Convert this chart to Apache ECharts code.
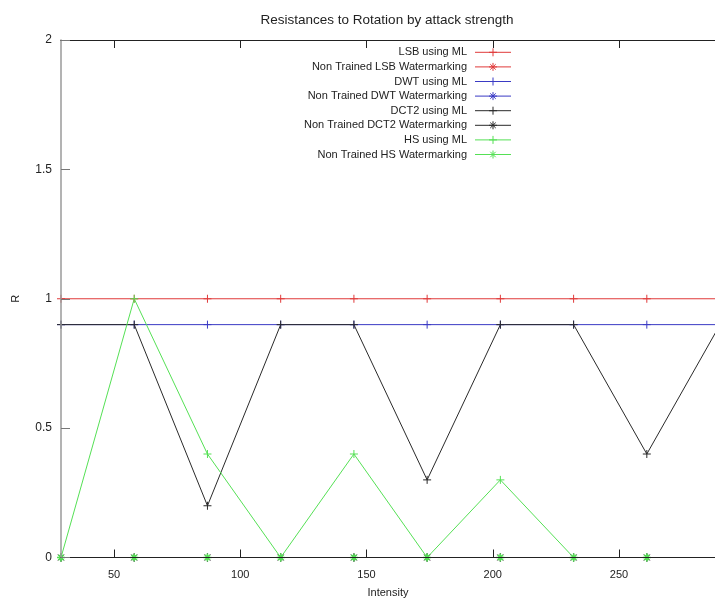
<!DOCTYPE html>
<html>
<head>
<meta charset="utf-8">
<script src="https://cdn.jsdelivr.net/npm/echarts@6/dist/echarts.min.js"></script>
<style>
  html, body { margin: 0; padding: 0; background: #ffffff; }
  #chart { width: 715px; height: 601px; }
</style>
</head>
<body>
<div id="chart"></div>
<script>
// Rotation attack intensities (x) and the resulting R values per method
const intensity = [29, 58, 87, 116, 145, 174, 203, 232, 261, 290];
const lsbML      = [1, 1, 1, 1, 1, 1, 1, 1, 1, 1];
const lsbPlain   = [0, 0, 0, 0, 0, 0, 0, 0, 0, 0];
const dwtML      = [0.9, 0.9, 0.9, 0.9, 0.9, 0.9, 0.9, 0.9, 0.9, 0.9];
const dwtPlain   = [0, 0, 0, 0, 0, 0, 0, 0, 0, 0];
const dct2ML     = [0.9, 0.9, 0.2, 0.9, 0.9, 0.3, 0.9, 0.9, 0.4, 0.9];
const dct2Plain  = [0, 0, 0, 0, 0, 0, 0, 0, 0, 0];
const hsML       = [0, 1, 0.4, 0, 0.4, 0, 0.3, 0, 0, 0];
const hsPlain    = [0, 0, 0, 0, 0, 0, 0, 0, 0, 0];

const xTicks = [50, 100, 150, 200, 250];
const yTicks = [0, 0.5, 1, 1.5, 2];

// "+" and "*" point shapes, stroked rather than filled
const PLUS = 'path://M5,0L5,10M0,5L10,5';
const STAR = 'path://M5,0L5,10M0,5L10,5M1.6,1.6L8.4,8.4M8.4,1.6L1.6,8.4';

const RED = '#e03a3a', BLUE = '#3a3ac4', BLACK = '#2a2a2a', GREEN = '#55e055';

function makeSeries(name, values, color, symbol, strokeWidth) {
  return {
    name: name,
    type: 'line',
    xAxisIndex: 0,
    yAxisIndex: 0,
    data: values.map((v, i) => [intensity[i], v]),
    symbol: symbol,
    symbolSize: 8,
    showAllSymbol: true,
    clip: true,
    lineStyle: { color: color, width: 1 },
    itemStyle: { color: color, borderColor: color, borderWidth: strokeWidth || 1 },
    emphasis: { disabled: true },
    animation: false
  };
}

const chart = echarts.init(document.getElementById('chart'), null, { renderer: 'canvas' });

const fontFamily = '"Liberation Sans", Arial, sans-serif';

chart.setOption({
  animation: false,
  backgroundColor: '#ffffff',
  title: {
    text: 'Resistances to Rotation by attack strength',
    left: 382,
    textAlign: 'center',
    top: 8,
    textStyle: { fontFamily: fontFamily, fontSize: 13.5, fontWeight: 'normal', color: '#222' }
  },
  legend: {
    orient: 'vertical',
    left: 277,
    top: 41,
    align: 'right',
    itemWidth: 36,
    itemHeight: 10,
    itemGap: 2,
    selectedMode: false,
    itemStyle: { borderWidth: 1 },
    lineStyle: { width: 1 },
    textStyle: {
      fontFamily: fontFamily, fontSize: 11, color: '#222',
      width: 185, align: 'right', lineHeight: 12.6, padding: [0, 3, 0, 0]
    }
  },
  grid: { left: 61, right: 0, top: 40, bottom: 43.5, containLabel: false, outerBoundsMode: 'none' },
  xAxis: [
    {
      type: 'value',
      min: 29,
      max: 288,
      position: 'bottom',
      z: 10,
      name: 'Intensity',
      nameLocation: 'middle',
      nameGap: 30,
      nameTextStyle: { fontFamily: fontFamily, fontSize: 11, color: '#222' },
      axisLine: { show: true, onZero: false, lineStyle: { color: '#222', width: 1 } },
      axisTick: { show: true, inside: true, length: 8, customValues: xTicks, lineStyle: { color: '#222' } },
      axisLabel: { customValues: xTicks, margin: 12, fontFamily: fontFamily, fontSize: 11, color: '#222' },
      splitLine: { show: false }
    },
    {
      type: 'value',
      min: 29,
      max: 288,
      position: 'top',
      z: 10,
      axisLine: { show: true, onZero: false, lineStyle: { color: '#222', width: 1 } },
      axisTick: { show: true, inside: true, length: 8, customValues: xTicks, lineStyle: { color: '#222' } },
      axisLabel: { show: false },
      splitLine: { show: false }
    }
  ],
  yAxis: {
    type: 'value',
    min: 0,
    max: 2,
    interval: 0.5,
    z: 10,
    name: 'R',
    nameLocation: 'middle',
    nameGap: 40,
    nameRotate: 90,
    nameTextStyle: { fontFamily: fontFamily, fontSize: 11, color: '#222' },
    axisLine: { show: true, onZero: false, lineStyle: { color: '#9a9a9a', width: 1.5 } },
    axisTick: { show: true, inside: true, length: 9, customValues: yTicks, lineStyle: { color: '#777' } },
    axisLabel: { customValues: yTicks, margin: 9, fontFamily: fontFamily, fontSize: 12, color: '#222' },
    splitLine: { show: false }
  },
  series: [
    makeSeries('LSB using ML', lsbML, RED, PLUS),
    makeSeries('Non Trained LSB Watermarking', lsbPlain, RED, STAR),
    makeSeries('DWT using ML', dwtML, BLUE, PLUS),
    makeSeries('Non Trained DWT Watermarking', dwtPlain, BLUE, STAR),
    makeSeries('DCT2 using ML', dct2ML, BLACK, PLUS),
    makeSeries('Non Trained DCT2 Watermarking', dct2Plain, BLACK, STAR),
    makeSeries('HS using ML', hsML, GREEN, PLUS),
    makeSeries('Non Trained HS Watermarking', hsPlain, GREEN, STAR, 1.5)
  ]
});
</script>
</body>
</html>
